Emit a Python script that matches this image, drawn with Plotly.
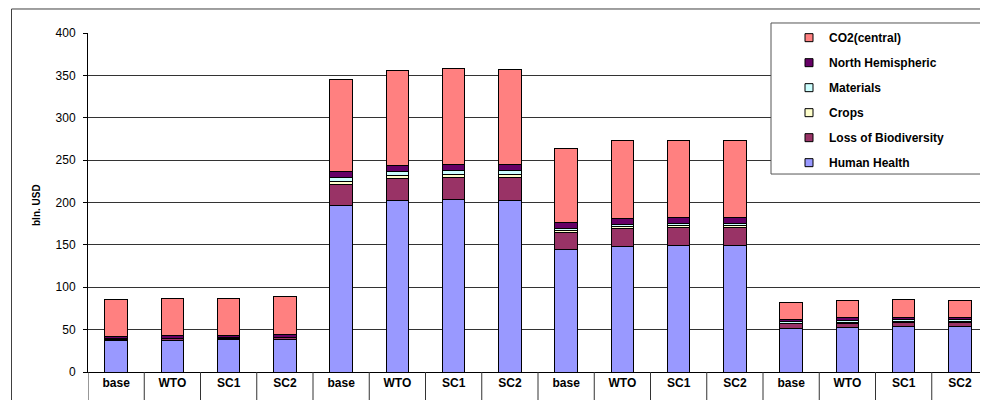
import plotly.graph_objects as go

labels = ["base", "WTO", "SC1", "SC2"] * 4

human_health = [37.0, 37.0, 38.2, 38.5, 196.3, 202.2, 203.0, 202.2, 144.8, 148.3, 149.5, 149.5, 51.5, 52.7, 53.9, 53.9]
loss_biodiv = [1.5, 2.0, 1.8, 2.0, 25.1, 25.9, 26.7, 27.1, 19.6, 20.8, 21.2, 21.2, 5.5, 4.7, 4.3, 4.3]
crops = [0.3, 0.3, 0.3, 0.3, 3.2, 3.9, 3.9, 3.9, 2.8, 2.4, 2.3, 2.4, 0.6, 1.6, 1.6, 1.6]
materials = [0.3, 0.3, 0.3, 0.3, 4.7, 4.0, 3.9, 4.3, 2.3, 2.7, 2.7, 2.6, 1.6, 1.6, 1.6, 1.6]
north_hemi = [2.5, 2.9, 1.9, 2.6, 7.1, 7.9, 7.5, 7.5, 6.7, 6.7, 6.3, 6.3, 3.0, 3.5, 3.1, 3.1]
co2_central = [44.2, 44.5, 44.5, 45.6, 109.0, 112.4, 113.7, 112.1, 87.7, 91.7, 91.4, 91.4, 20.0, 20.5, 20.8, 20.1]

series = [
    ("Human Health", human_health, "#9999FF"),
    ("Loss of Biodiversity", loss_biodiv, "#993366"),
    ("Crops", crops, "#FFFFCC"),
    ("Materials", materials, "#CCFFFF"),
    ("North Hemispheric", north_hemi, "#660066"),
    ("CO2(central)", co2_central, "#FF8080"),
]

x_idx = list(range(len(labels)))
FONT = "Liberation Sans, Arial, sans-serif"

fig = go.Figure()
for name, vals, col in series:
    fig.add_trace(go.Bar(
        x=x_idx, y=vals, name=name, showlegend=False,
        marker=dict(color=col, line=dict(color="#000000", width=1)),
        hoverinfo="y+name",
    ))

# legend entries (small square symbols), top to bottom
for i, (name, vals, col) in enumerate(reversed(series)):
    fig.add_trace(go.Scatter(
        x=[None], y=[None], mode="markers", name=name, legendgroup="g%d" % i,
        marker=dict(symbol="square", size=8, color=col, line=dict(color="#000000", width=1)),
    ))

shapes = []
# outer chart frame
shapes.append(dict(type="rect", xref="paper", yref="paper",
                   x0=-0.085, x1=1.2, y0=-0.5, y1=1.0708,
                   line=dict(color="#404040", width=1), fillcolor="rgba(0,0,0,0)", layer="below"))
# category table separators below the axis
for i in range(len(labels) + 1):
    shapes.append(dict(type="line", xref="x", yref="paper",
                       x0=i - 0.5, x1=i - 0.5, y0=0, y1=-0.2,
                       line=dict(color="#333333", width=1)))
# legend box
shapes.append(dict(type="rect", xref="paper", yref="paper",
                   x0=0.7589, x1=0.9989, y0=0.584, y1=1.0295,
                   line=dict(color="#555555", width=1), fillcolor="#FFFFFF", layer="above"))

fig.update_layout(
    width=980, height=392,
    margin=dict(l=80, r=0, t=25, b=28),
    paper_bgcolor="#FFFFFF", plot_bgcolor="#FFFFFF",
    barmode="stack", bargap=0.6,
    font=dict(family=FONT, color="#000000"),
    shapes=shapes,
    showlegend=True,
    legend=dict(
        x=0.7789, y=1.029, xanchor="left", yanchor="top",
        bgcolor="rgba(0,0,0,0)", borderwidth=0,
        traceorder="grouped", tracegroupgap=6,
        font=dict(family=FONT, size=12, color="#000000", weight="bold"),
    ),
    xaxis=dict(
        tickmode="array", tickvals=x_idx, ticktext=labels,
        range=[-0.5, len(labels) - 0.5],
        showgrid=False, zeroline=False,
        showline=True, linecolor="#000000", linewidth=1,
        ticks="",
        tickfont=dict(family=FONT, size=12, color="#000000", weight="bold"),
    ),
    yaxis=dict(
        range=[0, 400], dtick=50, tick0=0,
        showgrid=True, gridcolor="#333333", gridwidth=1,
        zeroline=False,
        showline=True, linecolor="#000000", linewidth=1,
        ticks="outside", ticklen=4, tickcolor="#000000",
        ticklabelstandoff=5,
        tickfont=dict(family=FONT, size=12, color="#000000"),
    ),
    annotations=[dict(
        text="bln. USD", xref="paper", yref="paper", x=-0.0578, y=0.4926,
        textangle=-90, showarrow=False, xanchor="center", yanchor="middle",
        font=dict(family=FONT, size=10, color="#000000", weight="bold"),
    )],
)

fig.write_html("out.html")
